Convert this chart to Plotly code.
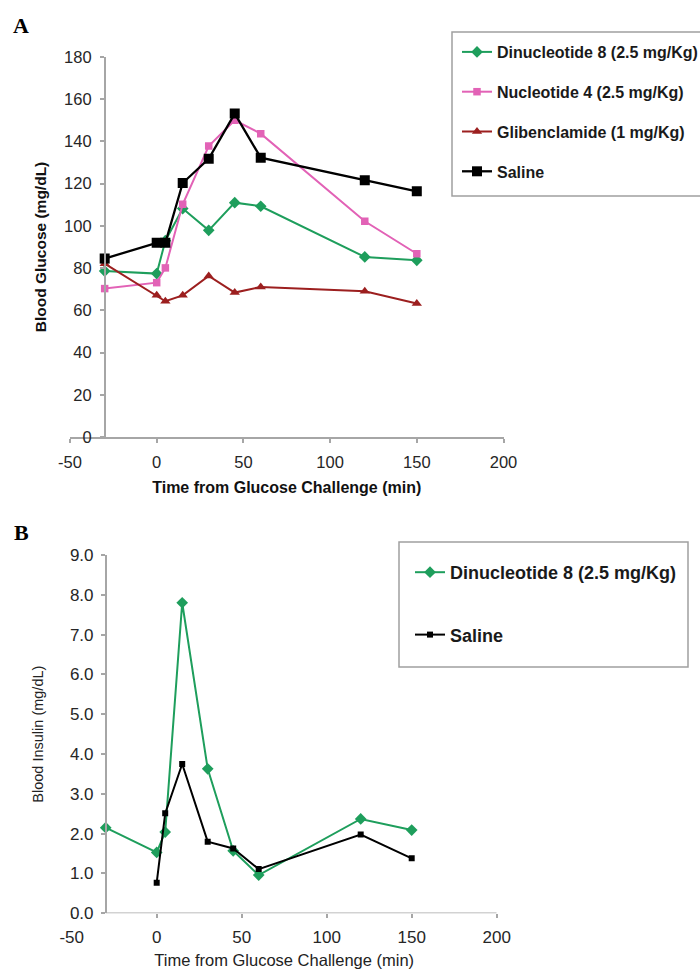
import plotly.graph_objects as go

# ---------------- data ----------------
time_min = [-30, 0, 5, 15, 30, 45, 60, 120, 150]

glucose_dinucleotide8 = [78.6, 77.4, 93, 108.2, 97.9, 111, 109.3, 85.3, 83.7]
glucose_nucleotide4 = [70.3, 73.1, 80.1, 110.2, 137.8, 150, 143.7, 102.2, 86.8]
glucose_glibenclamide = [82.1, 67.1, 64.3, 67.1, 76.3, 68.4, 71.1, 69, 63.2]
glucose_saline = [84.5, 92, 92, 120.3, 131.8, 153.2, 132.3, 121.6, 116.4]

time_min_saline_b = [0, 5, 15, 30, 45, 60, 120, 150]
insulin_dinucleotide8 = [2.15, 1.53, 2.04, 7.8, 3.63, 1.57, 0.96, 2.37, 2.09]
insulin_saline = [0.77, 2.51, 3.75, 1.80, 1.63, 1.11, 1.98, 1.38]

names_a = ["Dinucleotide 8 (2.5 mg/Kg)", "Nucleotide 4 (2.5 mg/Kg)",
           "Glibenclamide (1 mg/Kg)", "Saline"]
names_b = ["Dinucleotide 8 (2.5 mg/Kg)", "Saline"]

x_ticks = [-50, 0, 50, 100, 150, 200]
x_tick_labels = ["-50", "0", "50", "100", "150", "200"]
ya_ticks = list(range(0, 181, 20))
yb_ticks = [i * 1.0 for i in range(0, 10)]

# ---------------- style ----------------
W, H = 700, 969
GREEN = "#1e9e5c"
PINK = "#e262b6"
DRED = "#9c1f1f"
BLACK = "#000000"
AXIS = "#a6a6a6"
TXT = "#262626"
FONT = "Liberation Sans, Arial, sans-serif"


def xdom(p0, p1):
    return [p0 / W, p1 / W]


def ydom(top, bottom):
    return [1 - bottom / H, 1 - top / H]


# pixel layout
A_x0, A_x1, A_top, A_bot = 70, 503.5, 57, 437
B_x0, B_x1, B_top, B_bot = 71.7, 496.7, 555, 913.3
XMIN, XMAX, YCROSS = -50, 200, -30

posA = (A_x0 + (YCROSS - XMIN) / (XMAX - XMIN) * (A_x1 - A_x0)) / W
posB = (B_x0 + (YCROSS - XMIN) / (XMAX - XMIN) * (B_x1 - B_x0)) / W

fig = go.Figure()

# Panel A traces
fig.add_trace(go.Scatter(x=time_min, y=glucose_dinucleotide8, name=names_a[0],
                         mode="lines+markers", line=dict(color=GREEN, width=2),
                         marker=dict(symbol="diamond", size=9, color=GREEN),
                         xaxis="x", yaxis="y", legend="legend", legendgroup="a1"))
fig.add_trace(go.Scatter(x=time_min, y=glucose_nucleotide4, name=names_a[1],
                         mode="lines+markers", line=dict(color=PINK, width=2),
                         marker=dict(symbol="square", size=7.5, color=PINK),
                         xaxis="x", yaxis="y", legend="legend", legendgroup="a2"))
fig.add_trace(go.Scatter(x=time_min, y=glucose_glibenclamide, name=names_a[2],
                         mode="lines+markers", line=dict(color=DRED, width=2),
                         marker=dict(symbol="triangle-up", size=9, color=DRED),
                         xaxis="x", yaxis="y", legend="legend", legendgroup="a3"))
fig.add_trace(go.Scatter(x=time_min, y=glucose_saline, name=names_a[3],
                         mode="lines+markers", line=dict(color=BLACK, width=2.3),
                         marker=dict(symbol="square", size=10, color=BLACK),
                         xaxis="x", yaxis="y", legend="legend", legendgroup="a4"))

# Panel B traces
fig.add_trace(go.Scatter(x=time_min, y=insulin_dinucleotide8, name=names_b[0],
                         mode="lines+markers", line=dict(color=GREEN, width=2),
                         marker=dict(symbol="diamond", size=9, color=GREEN),
                         xaxis="x2", yaxis="y2", legend="legend2", legendgroup="b1"))
fig.add_trace(go.Scatter(x=time_min_saline_b, y=insulin_saline, name=names_b[1],
                         mode="lines+markers", line=dict(color=BLACK, width=2),
                         marker=dict(symbol="square", size=6, color=BLACK),
                         xaxis="x2", yaxis="y2", legend="legend2", legendgroup="b2"))

common_x = dict(range=[XMIN, XMAX], tickvals=x_ticks, ticktext=x_tick_labels,
                ticks="outside", ticklen=4,
                tickcolor=AXIS, tickwidth=1.5, showgrid=False, zeroline=False,
                linecolor=AXIS, linewidth=1.5, color=TXT, fixedrange=True)

fig.update_layout(
    width=W, height=H,
    margin=dict(l=0, r=0, t=0, b=0, autoexpand=False),
    paper_bgcolor="white", plot_bgcolor="rgba(0,0,0,0)",
    font=dict(family=FONT, color=TXT),
    xaxis=dict(domain=xdom(A_x0, A_x1), anchor="y", showline=True,
               tickfont=dict(size=16.5), ticklabelstandoff=5,
               title=dict(text="<b>Time from Glucose Challenge (min)</b>",
                          font=dict(size=16, color="#111"), standoff=12),
               **common_x),
    yaxis=dict(domain=ydom(A_top, A_bot), anchor="free", position=posA,
               range=[0, 180], tickvals=ya_ticks, ticks="outside", ticklen=4,
               tickcolor=AXIS, tickwidth=1.5, showline=True, linecolor=AXIS,
               linewidth=1.5, showgrid=False, zeroline=False, tickfont=dict(size=16.5),
               ticklabelstandoff=5,
               title=dict(text="<b>Blood Glucose (mg/dL)</b>",
                          font=dict(size=15.5, color="#111"), standoff=13),
               fixedrange=True),
    xaxis2=dict(domain=xdom(B_x0, B_x1), anchor="y2", showline=False,
                tickfont=dict(size=17), ticklabelstandoff=4,
                title=dict(text="Time from Glucose Challenge (min)",
                           font=dict(size=16.5, color="#222"), standoff=10),
                **common_x),
    yaxis2=dict(domain=ydom(B_top, B_bot), anchor="free", position=posB,
                range=[0, 9], tickvals=yb_ticks, tickformat=".1f", ticks="outside",
                ticklen=4, tickcolor=AXIS, tickwidth=1.5, showline=True,
                linecolor=AXIS, linewidth=1.5, showgrid=False, zeroline=False,
                tickfont=dict(size=17), ticklabelstandoff=4,
                title=dict(text="Blood Insulin (mg/dL)",
                           font=dict(size=14.5, color="#222"), standoff=22),
                fixedrange=True),
    legend=dict(x=457 / W, y=1 - 35 / H, xanchor="left", yanchor="top",
                bgcolor="rgba(0,0,0,0)", borderwidth=0, tracegroupgap=16,
                font=dict(size=16, color="#1a1a1a", family=FONT),
                itemclick=False, itemdoubleclick=False),
    legend2=dict(x=410 / W, y=1 - 554 / H, xanchor="left", yanchor="top",
                 bgcolor="rgba(0,0,0,0)", borderwidth=0, tracegroupgap=36,
                 font=dict(size=18, color="#1a1a1a", family=FONT),
                 itemclick=False, itemdoubleclick=False),
    showlegend=True,
)

# bold legend text
for tr in fig.data:
    tr.name = "<b>" + tr.name + "</b>"

# panel B x-axis line starting at the y-axis crossing
fig.add_shape(type="line", xref="x2", yref="y2", x0=YCROSS, x1=XMAX, y0=0, y1=0,
              line=dict(color=AXIS, width=1.5), layer="below")

# legend boxes
fig.add_shape(type="rect", xref="paper", yref="paper",
              x0=452 / W, x1=703 / W, y0=1 - 196 / H, y1=1 - 32 / H,
              line=dict(color="#a0a0a0", width=1.5), fillcolor="rgba(0,0,0,0)")
fig.add_shape(type="rect", xref="paper", yref="paper",
              x0=399 / W, x1=688 / W, y0=1 - 667 / H, y1=1 - 542 / H,
              line=dict(color="#a0a0a0", width=1.5), fillcolor="rgba(0,0,0,0)")

# panel letters
fig.add_annotation(text="<b>A</b>", xref="paper", yref="paper", x=11 / W, y=1 - 25 / H,
                   xanchor="left", yanchor="middle", showarrow=False,
                   font=dict(family="Liberation Serif, Times New Roman, serif", size=22, color="#000"))
fig.add_annotation(text="<b>B</b>", xref="paper", yref="paper", x=12 / W, y=1 - 532 / H,
                   xanchor="left", yanchor="middle", showarrow=False,
                   font=dict(family="Liberation Serif, Times New Roman, serif", size=22, color="#000"))

fig.write_html("out.html", config={"displayModeBar": False},
               post_script="document.body.style.margin='0';document.body.style.overflow='hidden';")
